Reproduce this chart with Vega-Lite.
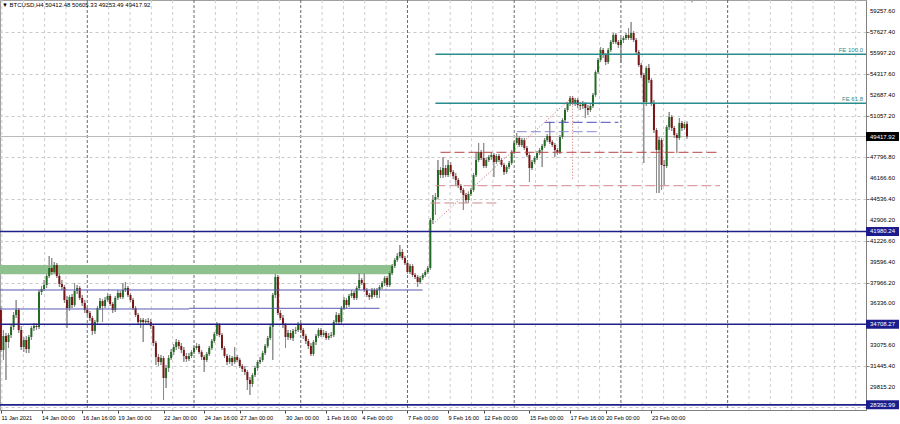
{
"$schema":"https://vega.github.io/schema/vega-lite/v6.json",
"width":866,"height":410,
"autosize":{"type":"none"},
"padding":{"left":0,"top":0,"right":34,"bottom":14},
"background":"white",
"config":{"view":{"stroke":"#a0a0a0","strokeWidth":1},"font":"Liberation Sans","axis":{"labelOverlap":false,"labelBound":false},"scale":{"continuousPadding":0}},
"title":{"text":"▼ BTCUSD,H4 50412.48 50605.33 49253.49 49417.92","anchor":"start","frame":"group","orient":"top","offset":-9,"fontSize":6,"font":"Liberation Sans","fontWeight":"normal","color":"#000000","dx":2},
"datasets":{"candles":[
{"t":"2021-01-11T08:00Z","o":35825,"h":36139,"l":32534,"c":32691},
{"t":"2021-01-11T12:00Z","o":32691,"h":34258,"l":31907,"c":33788},
{"t":"2021-01-11T16:00Z","o":33788,"h":34023,"l":30339,"c":33317},
{"t":"2021-01-11T20:00Z","o":33317,"h":34023,"l":32847,"c":33866},
{"t":"2021-01-12T00:00Z","o":33866,"h":34650,"l":33631,"c":34493},
{"t":"2021-01-12T04:00Z","o":34493,"h":35668,"l":34258,"c":35433},
{"t":"2021-01-12T08:00Z","o":35433,"h":36609,"l":35198,"c":35825},
{"t":"2021-01-12T12:00Z","o":35825,"h":35982,"l":34023,"c":34258},
{"t":"2021-01-12T16:00Z","o":34258,"h":34572,"l":32691,"c":32925},
{"t":"2021-01-12T20:00Z","o":32925,"h":33709,"l":32534,"c":33474},
{"t":"2021-01-13T00:00Z","o":33474,"h":33788,"l":32456,"c":32769},
{"t":"2021-01-13T04:00Z","o":32769,"h":33866,"l":32456,"c":33709},
{"t":"2021-01-13T08:00Z","o":33709,"h":34572,"l":33474,"c":34415},
{"t":"2021-01-13T12:00Z","o":34415,"h":34807,"l":34180,"c":34572},
{"t":"2021-01-13T16:00Z","o":34572,"h":34807,"l":34258,"c":34493},
{"t":"2021-01-13T20:00Z","o":34493,"h":37393,"l":34337,"c":37236},
{"t":"2021-01-14T00:00Z","o":37236,"h":37706,"l":37001,"c":37471},
{"t":"2021-01-14T04:00Z","o":37471,"h":38176,"l":37315,"c":37784},
{"t":"2021-01-14T08:00Z","o":37784,"h":38647,"l":37549,"c":38490},
{"t":"2021-01-14T12:00Z","o":38490,"h":40058,"l":38333,"c":39117},
{"t":"2021-01-14T16:00Z","o":39117,"h":39901,"l":38568,"c":38803},
{"t":"2021-01-14T20:00Z","o":38803,"h":39587,"l":38647,"c":39352},
{"t":"2021-01-15T00:00Z","o":39352,"h":39509,"l":38333,"c":38490},
{"t":"2021-01-15T04:00Z","o":38490,"h":38725,"l":37627,"c":37863},
{"t":"2021-01-15T08:00Z","o":37863,"h":38176,"l":37393,"c":37627},
{"t":"2021-01-15T12:00Z","o":37627,"h":37784,"l":36374,"c":36609},
{"t":"2021-01-15T16:00Z","o":36609,"h":36923,"l":34415,"c":35982},
{"t":"2021-01-15T20:00Z","o":35982,"h":37001,"l":35747,"c":36844},
{"t":"2021-01-16T00:00Z","o":36844,"h":37080,"l":35982,"c":36217},
{"t":"2021-01-16T04:00Z","o":36217,"h":37941,"l":36060,"c":37315},
{"t":"2021-01-16T08:00Z","o":37315,"h":37784,"l":37080,"c":37549},
{"t":"2021-01-16T12:00Z","o":37549,"h":37706,"l":36609,"c":36766},
{"t":"2021-01-16T16:00Z","o":36766,"h":37001,"l":36139,"c":36374},
{"t":"2021-01-16T20:00Z","o":36374,"h":36609,"l":35590,"c":35825},
{"t":"2021-01-17T00:00Z","o":35825,"h":36060,"l":35355,"c":35590},
{"t":"2021-01-17T04:00Z","o":35590,"h":35747,"l":34964,"c":35198},
{"t":"2021-01-17T08:00Z","o":35198,"h":35355,"l":33866,"c":34180},
{"t":"2021-01-17T12:00Z","o":34180,"h":35042,"l":33945,"c":34885},
{"t":"2021-01-17T16:00Z","o":34885,"h":36139,"l":34729,"c":35982},
{"t":"2021-01-17T20:00Z","o":35982,"h":36766,"l":35825,"c":36531},
{"t":"2021-01-18T00:00Z","o":36531,"h":36688,"l":34885,"c":36139},
{"t":"2021-01-18T04:00Z","o":36139,"h":36844,"l":35982,"c":36609},
{"t":"2021-01-18T08:00Z","o":36609,"h":37158,"l":36452,"c":36923},
{"t":"2021-01-18T12:00Z","o":36923,"h":37080,"l":36139,"c":36296},
{"t":"2021-01-18T16:00Z","o":36296,"h":36452,"l":35590,"c":35825},
{"t":"2021-01-18T20:00Z","o":35825,"h":36923,"l":35668,"c":36766},
{"t":"2021-01-19T00:00Z","o":36766,"h":37393,"l":36609,"c":37158},
{"t":"2021-01-19T04:00Z","o":37158,"h":37315,"l":36688,"c":36844},
{"t":"2021-01-19T08:00Z","o":36844,"h":37941,"l":36688,"c":37393},
{"t":"2021-01-19T12:00Z","o":37393,"h":38019,"l":37236,"c":37549},
{"t":"2021-01-19T16:00Z","o":37549,"h":37706,"l":36844,"c":37001},
{"t":"2021-01-19T20:00Z","o":37001,"h":37158,"l":36452,"c":36609},
{"t":"2021-01-20T00:00Z","o":36609,"h":36766,"l":35825,"c":35982},
{"t":"2021-01-20T04:00Z","o":35982,"h":36139,"l":35276,"c":35433},
{"t":"2021-01-20T08:00Z","o":35433,"h":35590,"l":34729,"c":34885},
{"t":"2021-01-20T12:00Z","o":34885,"h":35198,"l":34415,"c":35042},
{"t":"2021-01-20T16:00Z","o":35042,"h":35198,"l":33317,"c":34885},
{"t":"2021-01-20T20:00Z","o":34885,"h":35120,"l":34729,"c":34964},
{"t":"2021-01-21T00:00Z","o":34964,"h":35198,"l":34650,"c":34885},
{"t":"2021-01-21T04:00Z","o":34885,"h":35120,"l":34337,"c":34572},
{"t":"2021-01-21T08:00Z","o":34572,"h":34729,"l":33004,"c":33239},
{"t":"2021-01-21T12:00Z","o":33239,"h":33396,"l":31515,"c":32142},
{"t":"2021-01-21T16:00Z","o":32142,"h":32378,"l":31437,"c":31750},
{"t":"2021-01-21T20:00Z","o":31750,"h":32299,"l":31515,"c":32064},
{"t":"2021-01-22T00:00Z","o":32064,"h":32221,"l":28772,"c":30496},
{"t":"2021-01-22T04:00Z","o":30496,"h":31515,"l":29712,"c":31280},
{"t":"2021-01-22T08:00Z","o":31280,"h":32299,"l":30966,"c":32064},
{"t":"2021-01-22T12:00Z","o":32064,"h":32769,"l":31907,"c":32534},
{"t":"2021-01-22T16:00Z","o":32534,"h":33161,"l":32299,"c":32925},
{"t":"2021-01-22T20:00Z","o":32925,"h":33553,"l":32691,"c":33317},
{"t":"2021-01-23T00:00Z","o":33317,"h":33474,"l":32769,"c":33004},
{"t":"2021-01-23T04:00Z","o":33004,"h":33239,"l":32456,"c":32691},
{"t":"2021-01-23T08:00Z","o":32691,"h":32925,"l":31750,"c":32221},
{"t":"2021-01-23T12:00Z","o":32221,"h":32456,"l":31750,"c":31986},
{"t":"2021-01-23T16:00Z","o":31986,"h":32456,"l":31829,"c":32221},
{"t":"2021-01-23T20:00Z","o":32221,"h":32691,"l":32064,"c":32534},
{"t":"2021-01-24T00:00Z","o":32534,"h":33004,"l":32378,"c":32847},
{"t":"2021-01-24T04:00Z","o":32847,"h":33239,"l":32691,"c":33004},
{"t":"2021-01-24T08:00Z","o":33004,"h":33161,"l":32378,"c":32534},
{"t":"2021-01-24T12:00Z","o":32534,"h":32691,"l":31907,"c":32142},
{"t":"2021-01-24T16:00Z","o":32142,"h":32299,"l":30966,"c":31907},
{"t":"2021-01-24T20:00Z","o":31907,"h":32534,"l":31750,"c":32378},
{"t":"2021-01-25T00:00Z","o":32378,"h":33004,"l":32221,"c":32847},
{"t":"2021-01-25T04:00Z","o":32847,"h":33553,"l":32691,"c":33396},
{"t":"2021-01-25T08:00Z","o":33396,"h":34101,"l":33239,"c":33945},
{"t":"2021-01-25T12:00Z","o":33945,"h":34885,"l":33788,"c":34650},
{"t":"2021-01-25T16:00Z","o":34650,"h":34807,"l":33709,"c":33866},
{"t":"2021-01-25T20:00Z","o":33866,"h":34023,"l":32691,"c":32847},
{"t":"2021-01-26T00:00Z","o":32847,"h":33004,"l":32064,"c":32221},
{"t":"2021-01-26T04:00Z","o":32221,"h":32378,"l":31515,"c":31750},
{"t":"2021-01-26T08:00Z","o":31750,"h":32299,"l":31594,"c":32064},
{"t":"2021-01-26T12:00Z","o":32064,"h":32221,"l":31437,"c":31750},
{"t":"2021-01-26T16:00Z","o":31750,"h":32925,"l":31594,"c":32142},
{"t":"2021-01-26T20:00Z","o":32142,"h":32299,"l":31750,"c":31907},
{"t":"2021-01-27T00:00Z","o":31907,"h":32064,"l":31280,"c":31437},
{"t":"2021-01-27T04:00Z","o":31437,"h":31594,"l":30966,"c":31202},
{"t":"2021-01-27T08:00Z","o":31202,"h":31437,"l":30731,"c":30966},
{"t":"2021-01-27T12:00Z","o":30966,"h":31123,"l":29556,"c":30339},
{"t":"2021-01-27T16:00Z","o":30339,"h":30574,"l":29164,"c":30026},
{"t":"2021-01-27T20:00Z","o":30026,"h":30888,"l":29790,"c":30731},
{"t":"2021-01-28T00:00Z","o":30731,"h":31437,"l":30574,"c":31280},
{"t":"2021-01-28T04:00Z","o":31280,"h":31907,"l":31045,"c":31750},
{"t":"2021-01-28T08:00Z","o":31750,"h":32142,"l":31594,"c":31907},
{"t":"2021-01-28T12:00Z","o":31907,"h":32613,"l":31750,"c":32456},
{"t":"2021-01-28T16:00Z","o":32456,"h":33161,"l":32299,"c":33004},
{"t":"2021-01-28T20:00Z","o":33004,"h":33788,"l":32847,"c":33631},
{"t":"2021-01-29T00:00Z","o":33631,"h":34650,"l":33474,"c":34493},
{"t":"2021-01-29T04:00Z","o":34493,"h":37158,"l":31907,"c":37001},
{"t":"2021-01-29T08:00Z","o":37001,"h":38647,"l":36766,"c":38411},
{"t":"2021-01-29T12:00Z","o":38411,"h":38568,"l":35433,"c":35590},
{"t":"2021-01-29T16:00Z","o":35590,"h":35825,"l":35042,"c":35198},
{"t":"2021-01-29T20:00Z","o":35198,"h":35433,"l":34415,"c":34650},
{"t":"2021-01-30T00:00Z","o":34650,"h":34807,"l":32847,"c":33709},
{"t":"2021-01-30T04:00Z","o":33709,"h":34258,"l":33474,"c":34023},
{"t":"2021-01-30T08:00Z","o":34023,"h":34258,"l":33474,"c":33631},
{"t":"2021-01-30T12:00Z","o":33631,"h":34337,"l":33396,"c":34180},
{"t":"2021-01-30T16:00Z","o":34180,"h":34493,"l":33945,"c":34258},
{"t":"2021-01-30T20:00Z","o":34258,"h":34885,"l":34101,"c":34729},
{"t":"2021-01-31T00:00Z","o":34729,"h":34885,"l":34023,"c":34258},
{"t":"2021-01-31T04:00Z","o":34258,"h":34415,"l":33553,"c":33788},
{"t":"2021-01-31T08:00Z","o":33788,"h":33945,"l":33161,"c":33396},
{"t":"2021-01-31T12:00Z","o":33396,"h":33553,"l":32769,"c":33004},
{"t":"2021-01-31T16:00Z","o":33004,"h":33239,"l":32221,"c":32378},
{"t":"2021-01-31T20:00Z","o":32378,"h":33474,"l":32221,"c":33317},
{"t":"2021-02-01T00:00Z","o":33317,"h":33945,"l":33082,"c":33788},
{"t":"2021-02-01T04:00Z","o":33788,"h":34415,"l":33631,"c":34258},
{"t":"2021-02-01T08:00Z","o":34258,"h":34415,"l":33709,"c":33866},
{"t":"2021-02-01T12:00Z","o":33866,"h":34258,"l":33709,"c":34023},
{"t":"2021-02-01T16:00Z","o":34023,"h":34180,"l":33474,"c":33631},
{"t":"2021-02-01T20:00Z","o":33631,"h":34023,"l":33474,"c":33788},
{"t":"2021-02-02T00:00Z","o":33788,"h":34101,"l":33631,"c":33866},
{"t":"2021-02-02T04:00Z","o":33866,"h":35042,"l":33709,"c":34885},
{"t":"2021-02-02T08:00Z","o":34885,"h":35668,"l":34729,"c":35433},
{"t":"2021-02-02T12:00Z","o":35433,"h":35590,"l":34650,"c":34885},
{"t":"2021-02-02T16:00Z","o":34885,"h":36139,"l":34729,"c":35982},
{"t":"2021-02-02T20:00Z","o":35982,"h":36844,"l":35825,"c":36609},
{"t":"2021-02-03T00:00Z","o":36609,"h":36766,"l":35982,"c":36217},
{"t":"2021-02-03T04:00Z","o":36217,"h":37080,"l":36060,"c":36923},
{"t":"2021-02-03T08:00Z","o":36923,"h":37393,"l":36766,"c":37158},
{"t":"2021-02-03T12:00Z","o":37158,"h":37315,"l":36609,"c":36766},
{"t":"2021-02-03T16:00Z","o":36766,"h":37706,"l":36609,"c":37549},
{"t":"2021-02-03T20:00Z","o":37549,"h":38725,"l":37393,"c":38176},
{"t":"2021-02-04T00:00Z","o":38176,"h":38333,"l":37784,"c":37941},
{"t":"2021-02-04T04:00Z","o":37941,"h":38725,"l":37236,"c":37393},
{"t":"2021-02-04T08:00Z","o":37393,"h":37549,"l":36844,"c":37001},
{"t":"2021-02-04T12:00Z","o":37001,"h":37158,"l":36609,"c":36844},
{"t":"2021-02-04T16:00Z","o":36844,"h":37549,"l":36688,"c":37393},
{"t":"2021-02-04T20:00Z","o":37393,"h":37549,"l":36844,"c":37001},
{"t":"2021-02-05T00:00Z","o":37001,"h":37549,"l":36766,"c":37393},
{"t":"2021-02-05T04:00Z","o":37393,"h":37784,"l":36766,"c":37627},
{"t":"2021-02-05T08:00Z","o":37627,"h":38098,"l":37471,"c":37941},
{"t":"2021-02-05T12:00Z","o":37941,"h":38490,"l":37706,"c":38333},
{"t":"2021-02-05T16:00Z","o":38333,"h":38490,"l":37627,"c":37784},
{"t":"2021-02-05T20:00Z","o":37784,"h":38882,"l":37627,"c":38725},
{"t":"2021-02-06T00:00Z","o":38725,"h":39431,"l":38568,"c":39274},
{"t":"2021-02-06T04:00Z","o":39274,"h":39901,"l":39117,"c":39744},
{"t":"2021-02-06T08:00Z","o":39744,"h":40293,"l":39587,"c":40058},
{"t":"2021-02-06T12:00Z","o":40058,"h":40919,"l":39901,"c":40371},
{"t":"2021-02-06T16:00Z","o":40371,"h":40606,"l":39744,"c":39901},
{"t":"2021-02-06T20:00Z","o":39901,"h":40058,"l":39352,"c":39509},
{"t":"2021-02-07T00:00Z","o":39509,"h":39666,"l":38647,"c":38803},
{"t":"2021-02-07T04:00Z","o":38803,"h":39431,"l":38647,"c":39274},
{"t":"2021-02-07T08:00Z","o":39274,"h":39431,"l":38411,"c":38568},
{"t":"2021-02-07T12:00Z","o":38568,"h":38725,"l":38255,"c":38411},
{"t":"2021-02-07T16:00Z","o":38411,"h":38568,"l":37627,"c":38019},
{"t":"2021-02-07T20:00Z","o":38019,"h":38490,"l":37863,"c":38333},
{"t":"2021-02-08T00:00Z","o":38333,"h":38725,"l":38176,"c":38568},
{"t":"2021-02-08T04:00Z","o":38568,"h":38960,"l":38411,"c":38803},
{"t":"2021-02-08T08:00Z","o":38803,"h":39274,"l":38647,"c":39117},
{"t":"2021-02-08T12:00Z","o":39117,"h":43035,"l":38960,"c":42879},
{"t":"2021-02-08T16:00Z","o":42879,"h":44838,"l":42565,"c":44446},
{"t":"2021-02-08T20:00Z","o":44446,"h":44995,"l":43270,"c":44681},
{"t":"2021-02-09T00:00Z","o":44681,"h":47581,"l":44524,"c":46797},
{"t":"2021-02-09T04:00Z","o":46797,"h":47032,"l":46170,"c":46405},
{"t":"2021-02-09T08:00Z","o":46405,"h":47816,"l":46170,"c":46954},
{"t":"2021-02-09T12:00Z","o":46954,"h":47189,"l":46248,"c":46405},
{"t":"2021-02-09T16:00Z","o":46405,"h":47581,"l":46248,"c":47189},
{"t":"2021-02-09T20:00Z","o":47189,"h":47424,"l":46484,"c":46640},
{"t":"2021-02-10T00:00Z","o":46640,"h":46797,"l":46092,"c":46327},
{"t":"2021-02-10T04:00Z","o":46327,"h":46562,"l":45621,"c":46013},
{"t":"2021-02-10T08:00Z","o":46013,"h":46170,"l":45386,"c":45543},
{"t":"2021-02-10T12:00Z","o":45543,"h":45700,"l":44995,"c":45230},
{"t":"2021-02-10T16:00Z","o":45230,"h":45386,"l":43662,"c":44838},
{"t":"2021-02-10T20:00Z","o":44838,"h":44995,"l":44211,"c":44446},
{"t":"2021-02-11T00:00Z","o":44446,"h":45073,"l":44211,"c":44917},
{"t":"2021-02-11T04:00Z","o":44917,"h":45386,"l":44760,"c":45230},
{"t":"2021-02-11T08:00Z","o":45230,"h":46562,"l":45073,"c":46405},
{"t":"2021-02-11T12:00Z","o":46405,"h":48208,"l":46248,"c":47581},
{"t":"2021-02-11T16:00Z","o":47581,"h":48913,"l":47424,"c":48208},
{"t":"2021-02-11T20:00Z","o":48208,"h":48365,"l":47581,"c":47738},
{"t":"2021-02-12T00:00Z","o":47738,"h":48913,"l":46954,"c":47111},
{"t":"2021-02-12T04:00Z","o":47111,"h":47738,"l":46954,"c":47581},
{"t":"2021-02-12T08:00Z","o":47581,"h":47973,"l":47424,"c":47816},
{"t":"2021-02-12T12:00Z","o":47816,"h":48208,"l":47581,"c":47973},
{"t":"2021-02-12T16:00Z","o":47973,"h":48130,"l":46248,"c":47424},
{"t":"2021-02-12T20:00Z","o":47424,"h":48052,"l":47267,"c":47895},
{"t":"2021-02-13T00:00Z","o":47895,"h":48052,"l":47424,"c":47581},
{"t":"2021-02-13T04:00Z","o":47581,"h":47738,"l":47032,"c":47189},
{"t":"2021-02-13T08:00Z","o":47189,"h":47346,"l":46405,"c":46640},
{"t":"2021-02-13T12:00Z","o":46640,"h":47189,"l":46484,"c":47032},
{"t":"2021-02-13T16:00Z","o":47032,"h":47503,"l":46875,"c":47346},
{"t":"2021-02-13T20:00Z","o":47346,"h":48365,"l":47189,"c":48208},
{"t":"2021-02-14T00:00Z","o":48208,"h":49070,"l":48052,"c":48913},
{"t":"2021-02-14T04:00Z","o":48913,"h":49697,"l":48756,"c":49305},
{"t":"2021-02-14T08:00Z","o":49305,"h":49462,"l":48599,"c":48756},
{"t":"2021-02-14T12:00Z","o":48756,"h":49305,"l":48599,"c":49148},
{"t":"2021-02-14T16:00Z","o":49148,"h":49305,"l":48365,"c":48521},
{"t":"2021-02-14T20:00Z","o":48521,"h":48678,"l":47816,"c":47973},
{"t":"2021-02-15T00:00Z","o":47973,"h":48130,"l":45856,"c":46954},
{"t":"2021-02-15T04:00Z","o":46954,"h":47581,"l":46797,"c":47424},
{"t":"2021-02-15T08:00Z","o":47424,"h":47895,"l":47267,"c":47738},
{"t":"2021-02-15T12:00Z","o":47738,"h":48287,"l":47581,"c":48130},
{"t":"2021-02-15T16:00Z","o":48130,"h":48521,"l":47973,"c":48365},
{"t":"2021-02-15T20:00Z","o":48365,"h":48835,"l":47032,"c":48678},
{"t":"2021-02-16T00:00Z","o":48678,"h":49305,"l":48521,"c":49148},
{"t":"2021-02-16T04:00Z","o":49148,"h":49619,"l":48991,"c":49462},
{"t":"2021-02-16T08:00Z","o":49462,"h":50559,"l":48835,"c":48991},
{"t":"2021-02-16T12:00Z","o":48991,"h":49148,"l":48599,"c":48756},
{"t":"2021-02-16T16:00Z","o":48756,"h":48913,"l":47816,"c":48365},
{"t":"2021-02-16T20:00Z","o":48365,"h":48521,"l":47973,"c":48208},
{"t":"2021-02-17T00:00Z","o":48208,"h":49540,"l":48052,"c":49383},
{"t":"2021-02-17T04:00Z","o":49383,"h":50873,"l":49227,"c":50716},
{"t":"2021-02-17T08:00Z","o":50716,"h":51656,"l":50559,"c":51499},
{"t":"2021-02-17T12:00Z","o":51499,"h":52126,"l":51342,"c":51970},
{"t":"2021-02-17T16:00Z","o":51970,"h":52597,"l":51813,"c":52440},
{"t":"2021-02-17T20:00Z","o":52440,"h":52597,"l":51891,"c":52048},
{"t":"2021-02-18T00:00Z","o":52048,"h":52440,"l":51813,"c":52283},
{"t":"2021-02-18T04:00Z","o":52283,"h":52440,"l":51656,"c":51891},
{"t":"2021-02-18T08:00Z","o":51891,"h":52126,"l":51499,"c":51813},
{"t":"2021-02-18T12:00Z","o":51813,"h":52205,"l":51578,"c":51970},
{"t":"2021-02-18T16:00Z","o":51970,"h":52126,"l":50873,"c":51656},
{"t":"2021-02-18T20:00Z","o":51656,"h":51891,"l":51107,"c":51499},
{"t":"2021-02-19T00:00Z","o":51499,"h":51970,"l":51342,"c":51813},
{"t":"2021-02-19T04:00Z","o":51813,"h":52832,"l":51656,"c":52675},
{"t":"2021-02-19T08:00Z","o":52675,"h":54634,"l":52518,"c":54477},
{"t":"2021-02-19T12:00Z","o":54477,"h":55575,"l":54321,"c":55418},
{"t":"2021-02-19T16:00Z","o":55418,"h":56436,"l":55261,"c":56202},
{"t":"2021-02-19T20:00Z","o":56202,"h":56358,"l":55575,"c":55810},
{"t":"2021-02-20T00:00Z","o":55810,"h":55967,"l":55026,"c":55261},
{"t":"2021-02-20T04:00Z","o":55261,"h":56358,"l":55105,"c":56202},
{"t":"2021-02-20T08:00Z","o":56202,"h":56985,"l":56045,"c":56828},
{"t":"2021-02-20T12:00Z","o":56828,"h":57534,"l":56672,"c":57377},
{"t":"2021-02-20T16:00Z","o":57377,"h":57534,"l":56672,"c":56828},
{"t":"2021-02-20T20:00Z","o":56828,"h":56985,"l":56358,"c":56593},
{"t":"2021-02-21T00:00Z","o":56593,"h":57142,"l":55183,"c":56985},
{"t":"2021-02-21T04:00Z","o":56985,"h":57299,"l":56750,"c":57142},
{"t":"2021-02-21T08:00Z","o":57142,"h":57534,"l":56985,"c":57377},
{"t":"2021-02-21T12:00Z","o":57377,"h":57926,"l":56985,"c":57142},
{"t":"2021-02-21T16:00Z","o":57142,"h":58396,"l":56985,"c":57534},
{"t":"2021-02-21T20:00Z","o":57534,"h":57691,"l":56828,"c":56985},
{"t":"2021-02-22T00:00Z","o":56985,"h":57142,"l":55888,"c":56045},
{"t":"2021-02-22T04:00Z","o":56045,"h":56202,"l":54869,"c":55026},
{"t":"2021-02-22T08:00Z","o":55026,"h":55183,"l":54007,"c":54242},
{"t":"2021-02-22T12:00Z","o":54242,"h":54399,"l":47346,"c":52126},
{"t":"2021-02-22T16:00Z","o":52126,"h":54948,"l":51813,"c":54791},
{"t":"2021-02-22T20:00Z","o":54791,"h":55105,"l":53615,"c":53850},
{"t":"2021-02-23T00:00Z","o":53850,"h":54007,"l":51813,"c":52048},
{"t":"2021-02-23T04:00Z","o":52048,"h":52283,"l":49697,"c":49932},
{"t":"2021-02-23T08:00Z","o":49932,"h":50089,"l":44995,"c":48365},
{"t":"2021-02-23T12:00Z","o":48365,"h":49383,"l":44995,"c":49148},
{"t":"2021-02-23T16:00Z","o":49148,"h":49305,"l":45230,"c":47189},
{"t":"2021-02-23T20:00Z","o":47189,"h":47581,"l":45621,"c":47111},
{"t":"2021-02-24T00:00Z","o":47111,"h":50324,"l":46954,"c":50168},
{"t":"2021-02-24T04:00Z","o":50168,"h":51342,"l":49932,"c":50951},
{"t":"2021-02-24T08:00Z","o":50951,"h":51107,"l":49854,"c":50089},
{"t":"2021-02-24T12:00Z","o":50089,"h":50246,"l":49305,"c":49540},
{"t":"2021-02-24T16:00Z","o":49540,"h":49697,"l":48130,"c":49305},
{"t":"2021-02-24T20:00Z","o":49305,"h":50873,"l":49148,"c":50481},
{"t":"2021-02-25T00:00Z","o":50481,"h":50638,"l":49854,"c":50089},
{"t":"2021-02-25T04:00Z","o":50089,"h":50559,"l":49932,"c":50403},
{"t":"2021-02-25T08:00Z","o":50412.48,"h":50605.33,"l":49253.49,"c":49417.92}
]},
"layer":[
{"data":{"name":"candles"},
 "mark":{"type":"rule","color":"#8c8c8c","strokeWidth":1},
 "encoding":{
  "x":{"field":"t","type":"temporal","title":null,
   "scale":{"type":"utc","nice":false,"padding":0,"domain":[{"year":2021,"month":1,"date":11,"hours":6,"minutes":35,"utc":true},{"year":2021,"month":3,"date":9,"hours":1,"minutes":48,"utc":true}]},
   "axis":{"orient":"bottom","values":[{"year":2021,"month":1,"date":11,"hours":8,"utc":true},{"year":2021,"month":1,"date":14,"hours":0,"utc":true},{"year":2021,"month":1,"date":16,"hours":16,"utc":true},{"year":2021,"month":1,"date":19,"hours":0,"utc":true},{"year":2021,"month":1,"date":22,"hours":0,"utc":true},{"year":2021,"month":1,"date":24,"hours":16,"utc":true},{"year":2021,"month":1,"date":27,"hours":0,"utc":true},{"year":2021,"month":1,"date":30,"hours":0,"utc":true},{"year":2021,"month":2,"date":1,"hours":16,"utc":true},{"year":2021,"month":2,"date":4,"hours":0,"utc":true},{"year":2021,"month":2,"date":7,"hours":0,"utc":true},{"year":2021,"month":2,"date":9,"hours":16,"utc":true},{"year":2021,"month":2,"date":12,"hours":0,"utc":true},{"year":2021,"month":2,"date":15,"hours":0,"utc":true},{"year":2021,"month":2,"date":17,"hours":16,"utc":true},{"year":2021,"month":2,"date":20,"hours":0,"utc":true},{"year":2021,"month":2,"date":23,"hours":0,"utc":true}],
    "labelExpr":"datum.index === 0 ? '11 Jan 2021' : utcFormat(datum.value, '%-d %b %H:%M')",
    "labelAlign":"left","labelBaseline":"top","labelFontSize":5.7,"labelFont":"Liberation Sans","labelColor":"#000000","labelPadding":1,"labelOverlap":false,"labelFlush":false,"labelBound":false,
    "tickSize":3,"tickColor":"#404040","domainColor":"#808080","grid":false,"zindex":1}},
  "y":{"field":"l","type":"quantitative","title":null,
   "scale":{"domain":[27988,60120],"nice":false,"zero":false,"padding":0},
   "axis":{"orient":"right","values":[59257.6,57627.4,55997.2,54317.6,52687.4,51057.2,49427.0,47796.8,46166.6,44536.4,42906.2,41226.6,39596.4,37966.2,36336.0,34705.8,33075.6,31445.4,29815.2,28185.0],
    "labels":false,
    "tickSize":3,"tickColor":"#808080","domainColor":"#808080","grid":true,"gridColor":"#c8c8c8","gridDash":[3,3],"gridWidth":1,"zindex":0}},
  "y2":{"field":"h"}}},
{"data":{"values":[{"t":"2021-01-11T09:36Z"},{"t":"2021-01-12T19:12Z"},{"t":"2021-01-14T04:48Z"},{"t":"2021-01-15T14:24Z"},{"t":"2021-01-18T09:36Z"},{"t":"2021-01-19T19:12Z"},{"t":"2021-01-21T04:48Z"},{"t":"2021-01-22T14:24Z"},{"t":"2021-01-25T09:36Z"},{"t":"2021-01-26T19:12Z"},{"t":"2021-01-28T04:48Z"},{"t":"2021-01-29T14:24Z"},{"t":"2021-02-01T09:36Z"},{"t":"2021-02-02T19:12Z"},{"t":"2021-02-04T04:48Z"},{"t":"2021-02-05T14:24Z"},{"t":"2021-02-08T09:36Z"},{"t":"2021-02-09T19:12Z"},{"t":"2021-02-11T04:48Z"},{"t":"2021-02-12T14:24Z"},{"t":"2021-02-15T09:36Z"},{"t":"2021-02-16T19:12Z"},{"t":"2021-02-18T04:48Z"},{"t":"2021-02-19T14:24Z"},{"t":"2021-02-22T09:36Z"},{"t":"2021-02-23T19:12Z"},{"t":"2021-02-25T04:48Z"},{"t":"2021-02-26T14:24Z"},{"t":"2021-03-01T09:36Z"},{"t":"2021-03-02T19:12Z"},{"t":"2021-03-04T04:48Z"},{"t":"2021-03-05T14:24Z"},{"t":"2021-03-07T00:00Z"},{"t":"2021-03-08T09:36Z"}]},
 "mark":{"type":"rule","color":"#cdcdcd","strokeDash":[3,3],"strokeWidth":1},
 "encoding":{"x":{"field":"t","type":"temporal","title":null}}},
{"data":{"values":[{"t":"2021-01-17T00:00Z"},{"t":"2021-01-24T00:00Z"},{"t":"2021-01-31T00:00Z"},{"t":"2021-02-07T00:00Z"},{"t":"2021-02-14T00:00Z"},{"t":"2021-02-21T00:00Z"},{"t":"2021-02-28T00:00Z"}]},
 "mark":{"type":"rule","color":"#6a6a6a","strokeDash":[3,2],"strokeWidth":1},
 "encoding":{"x":{"field":"t","type":"temporal","title":null}}},
{"data":{"values":[{"t1":"2021-01-01T00:00Z","t2":"2021-02-06T00:00Z","p1":38623,"p2":39352}]},
 "mark":{"type":"rect","color":"#8fc18f","clip":true},
 "encoding":{"x":{"field":"t1","type":"temporal","title":null},"x2":{"field":"t2"},"y":{"field":"p1","type":"quantitative","title":null},"y2":{"field":"p2"}}},
{"data":{"values":[{"p":49417.92}]},
 "mark":{"type":"rule","color":"#b8b8b8","strokeWidth":1},
 "encoding":{"y":{"field":"p","type":"quantitative","title":null}}},
{"data":{"name":"candles"},
 "mark":{"type":"rule","color":"#8c8c8c","strokeWidth":1},
 "encoding":{"x":{"field":"t","type":"temporal","title":null},"y":{"field":"l","type":"quantitative","title":null},"y2":{"field":"h"}}},
{"data":{"name":"candles"},
 "mark":{"type":"bar","width":2},
 "encoding":{
  "x":{"field":"t","type":"temporal","title":null},
  "y":{"field":"o","type":"quantitative","title":null},
  "y2":{"field":"c"},
  "color":{"condition":{"test":"datum.c >= datum.o","value":"#226b22"},"value":"#7a1414"}}},
{"data":{"values":[{"p":41980.24},{"p":34708.27},{"p":28392.99}]},
 "mark":{"type":"rule","color":"#20208a","strokeWidth":1.6},
 "encoding":{"y":{"field":"p","type":"quantitative","title":null}}},
{"data":{"values":[{"t1":"2021-01-01T00:00Z","t2":"2021-02-08T00:00Z","p":37393},{"t1":"2021-01-01T00:00Z","t2":"2021-01-23T16:00Z","p":35904},{"t1":"2021-01-23T16:00Z","t2":"2021-02-05T04:00Z","p":35958}]},
 "mark":{"type":"rule","color":"#5a5ab4","strokeWidth":1,"clip":true},
 "encoding":{"x":{"field":"t1","type":"temporal","title":null},"x2":{"field":"t2"},"y":{"field":"p","type":"quantitative","title":null}}},
{"data":{"values":[{"t1":"2021-02-08T20:00Z","t2":"2021-04-01T00:00Z","p":55865},{"t1":"2021-02-08T20:00Z","t2":"2021-04-01T00:00Z","p":52024}]},
 "mark":{"type":"rule","color":"#2a8c8c","strokeWidth":1.4,"clip":true},
 "encoding":{"x":{"field":"t1","type":"temporal","title":null},"x2":{"field":"t2"},"y":{"field":"p","type":"quantitative","title":null}}},
{"data":{"values":[{"t1":"2021-02-09T04:00Z","t2":"2021-02-27T12:00Z","p":48184}]},
 "mark":{"type":"rule","color":"#b84444","strokeWidth":1,"strokeDash":[10,4]},
 "encoding":{"x":{"field":"t1","type":"temporal","title":null},"x2":{"field":"t2"},"y":{"field":"p","type":"quantitative","title":null}}},
{"data":{"values":[{"t1":"2021-02-08T20:00Z","t2":"2021-02-27T12:00Z","p":45567},{"t1":"2021-02-08T12:00Z","t2":"2021-02-13T00:00Z","p":44211}]},
 "mark":{"type":"rule","color":"#cf8a8a","strokeWidth":1,"strokeDash":[10,4]},
 "encoding":{"x":{"field":"t1","type":"temporal","title":null},"x2":{"field":"t2"},"y":{"field":"p","type":"quantitative","title":null}}},
{"data":{"values":[{"t1":"2021-02-16T00:00Z","t2":"2021-02-20T20:00Z","p":50535}]},
 "mark":{"type":"rule","color":"#4a4abf","strokeWidth":1,"strokeDash":[10,4]},
 "encoding":{"x":{"field":"t1","type":"temporal","title":null},"x2":{"field":"t2"},"y":{"field":"p","type":"quantitative","title":null}}},
{"data":{"values":[{"t1":"2021-02-14T04:00Z","t2":"2021-02-19T16:00Z","p":49799}]},
 "mark":{"type":"rule","color":"#8c8cd2","strokeWidth":1,"strokeDash":[10,4]},
 "encoding":{"x":{"field":"t1","type":"temporal","title":null},"x2":{"field":"t2"},"y":{"field":"p","type":"quantitative","title":null}}},
{"data":{"values":[{"t1":"2021-02-08T16:00Z","t2":"2021-02-17T20:00Z","p1":42565,"p2":52542},{"t1":"2021-02-17T20:00Z","t2":"2021-02-17T20:00Z","p1":52542,"p2":46013}]},
 "mark":{"type":"rule","color":"#c86464","strokeWidth":1,"strokeDash":[1,2]},
 "encoding":{"x":{"field":"t1","type":"temporal","title":null},"x2":{"field":"t2"},"y":{"field":"p1","type":"quantitative","title":null},"y2":{"field":"p2"}}},
{"data":{"values":[{"p":55865,"lab":"FE 100.0"},{"p":52024,"lab":"FE 61.8"}]},
 "mark":{"type":"text","align":"right","baseline":"bottom","dx":-3,"dy":-1,"fontSize":6,"font":"Liberation Sans","color":"#2a8c8c"},
 "encoding":{"x":{"value":"width"},"y":{"field":"p","type":"quantitative","title":null},"text":{"field":"lab"}}},
{"data":{"values":[{"p":59257.6},{"p":57627.4},{"p":55997.2},{"p":54317.6},{"p":52687.4},{"p":51057.2},{"p":49427.0},{"p":47796.8},{"p":46166.6},{"p":44536.4},{"p":42906.2},{"p":41226.6},{"p":39596.4},{"p":37966.2},{"p":36336.0},{"p":34705.8},{"p":33075.6},{"p":31445.4},{"p":29815.2},{"p":28185.0}]},
 "mark":{"type":"text","align":"left","baseline":"middle","dx":4,"fontSize":6,"font":"Liberation Sans","color":"#000000"},
 "encoding":{"x":{"value":"width"},"y":{"field":"p","type":"quantitative","title":null},"text":{"field":"p","type":"quantitative","format":".2f"}}},
{"data":{"values":[{"p":49417.92,"kind":"bid"},{"p":41980.24,"kind":"level"},{"p":34708.27,"kind":"level"},{"p":28392.99,"kind":"level"}]},
 "layer":[
  {"mark":{"type":"point","shape":"M0,-4.5H33V4.5H0Z","size":4,"filled":true,"opacity":1,"strokeWidth":0},
   "encoding":{"x":{"value":"width"},"y":{"field":"p","type":"quantitative","title":null},
    "color":{"field":"kind","type":"nominal","legend":null,"scale":{"domain":["bid","level"],"range":["#000000","#1c1c8c"]}}}},
  {"mark":{"type":"text","align":"left","baseline":"middle","dx":4,"fontSize":6,"font":"Liberation Sans","color":"#ffffff"},
   "encoding":{"x":{"value":"width"},"y":{"field":"p","type":"quantitative","title":null},"text":{"field":"p","type":"quantitative","format":".2f"}}}
 ]},
{"data":{"values":[{"t":"2021-02-25T16:00Z","p":60030}]},
 "mark":{"type":"point","shape":"triangle-down","size":18,"filled":true,"color":"#a8a8a8","opacity":1},
 "encoding":{"x":{"field":"t","type":"temporal","title":null},"y":{"field":"p","type":"quantitative","title":null}}}
]
}
